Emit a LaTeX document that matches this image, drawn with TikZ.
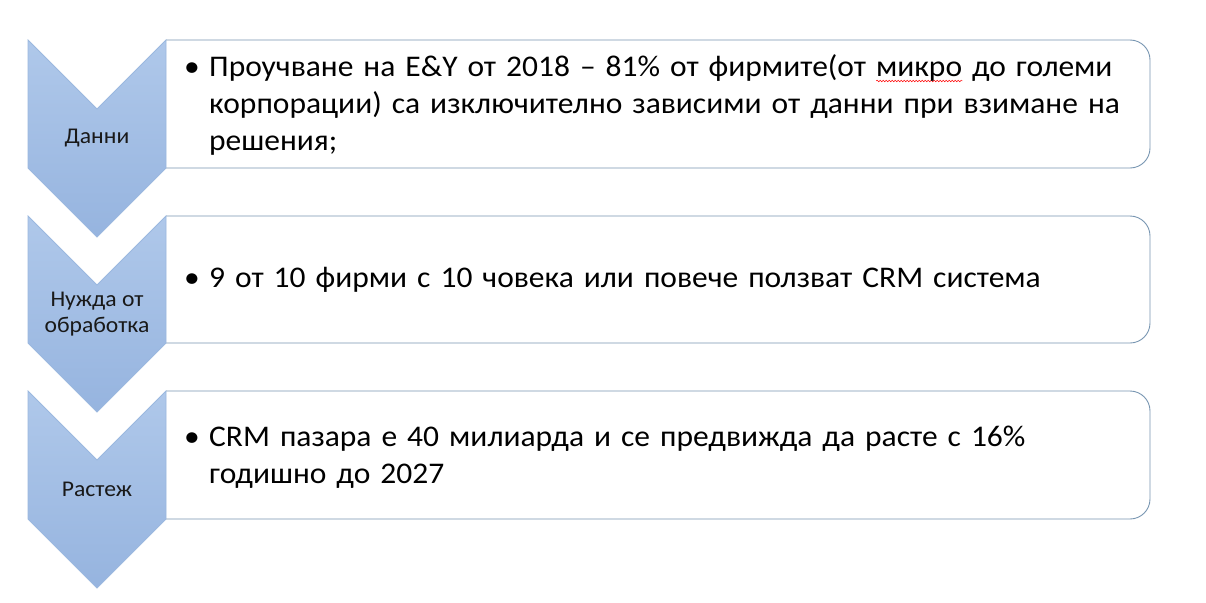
\documentclass[tikz,border=0pt]{standalone}
\usepackage{fontspec}
\setmainfont{Carlito}
\newfontfamily\bodyfont[FakeStretch=1.05]{Carlito}
\usetikzlibrary{decorations.pathmorphing}
\definecolor{chevtop}{HTML}{AFC8EA}
\definecolor{chevbot}{HTML}{96B4DF}
\definecolor{chevline}{HTML}{9BB8DF}
\definecolor{boxline}{HTML}{7896B2}
\newsavebox\spellbox
\newcommand\spellmark[1]{\sbox\spellbox{#1}\rlap{\raisebox{-4pt}{\tikz[x=1pt,y=1pt,baseline=0pt]\draw[red,line width=0.5pt,decorate,decoration={snake,amplitude=0.8pt,segment length=3pt}] (0,0) -- (\the\wd\spellbox,0);}}\usebox\spellbox}
\begin{document}
\begin{tikzpicture}[x=1pt,y=-1pt,
  chev/.style={top color=chevtop,bottom color=chevbot,draw=chevline,line width=0.8pt},
  listbox/.style={draw=boxline,fill=white,line width=0.9pt,rounded corners=20pt},
  chevlabel/.style={font=\bodyfont\fontsize{22.5}{26}\selectfont,align=center,inner sep=0pt,text=black!90},
  bodytext/.style={font=\bodyfont\fontsize{30}{36.6}\selectfont,text width=960pt,align=left,inner sep=0pt,anchor=west}]
\useasboundingbox (0,0) rectangle (1206,602);
\fill[white] (0,0) rectangle (1206,602);
% boxes
\draw[listbox] (166,40) -- (1150,40) -- (1150,168) -- (166,168);
\draw[listbox] (166,216) -- (1150,216) -- (1150,343) -- (166,343);
\draw[listbox] (166,391) -- (1150,391) -- (1150,519) -- (166,519);
% chevrons
\path[chev] (28,40) -- (97,109) -- (166,40) -- (166,168) -- (97,237) -- (28,168) -- cycle;
\path[chev] (28,216) -- (97,285) -- (166,216) -- (166,343) -- (97,412) -- (28,343) -- cycle;
\path[chev] (28,391) -- (97,460) -- (166,391) -- (166,519) -- (97,588) -- (28,519) -- cycle;
% labels
\node[chevlabel] (l1) at (97,138.5) {Данни};
\node[chevlabel] (l2) at (97,314) {Нужда от\\обработка};
\node[chevlabel] (l3) at (97,489.5) {Растеж};
% body text
\node[bodytext] (t1) at (184,105) {\leftskip=25pt\hspace*{-25pt}\makebox[25pt][l]{\textbullet}Проучване на E\&Y от 2018 – 81\% от фирмите(от \spellmark{микро} до големи\\корпорации) са изключително зависими от данни при взимане на\\решения;\par};
\node[bodytext] (t2) at (184,280) {\leftskip=25pt\hspace*{-25pt}\makebox[25pt][l]{\textbullet}9 от 10 фирми с 10 човека или повече ползват CRM система\par};
\node[bodytext] (t3) at (184,457) {\leftskip=25pt\hspace*{-25pt}\makebox[25pt][l]{\textbullet}CRM пазара е 40 милиарда и се предвижда да расте с 16\%\\годишно до 2027\par};
\end{tikzpicture}
\end{document}
